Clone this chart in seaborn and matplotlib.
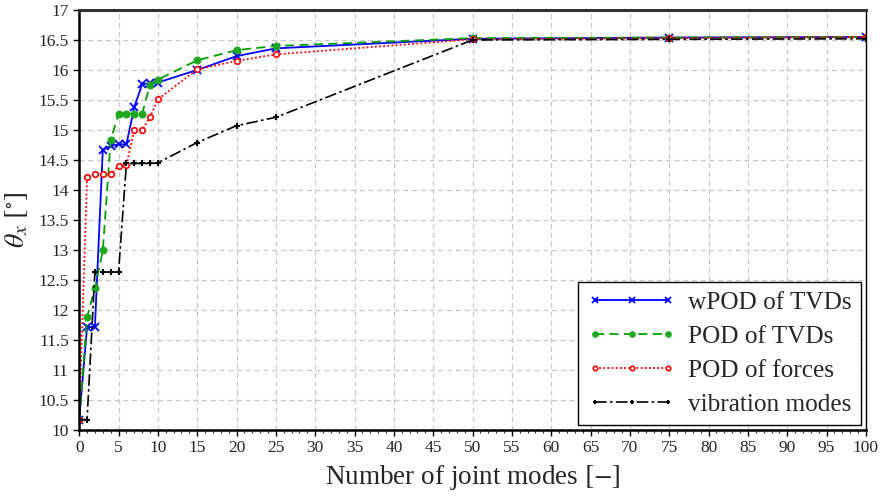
import numpy as np
import pandas as pd
import seaborn as sns
import matplotlib
matplotlib.use("Agg")
import matplotlib.pyplot as plt
from matplotlib.ticker import MultipleLocator, FormatStrFormatter

# Number of joint modes retained
n_modes = [0, 1, 2, 3, 4, 5, 6, 7, 8, 9, 10, 15, 20, 25, 50, 75, 100]

# Roll angle theta_x [deg] for each reduction basis
wpod_tvds = [10.17, 11.71, 11.72, 14.67, 14.73, 14.76, 14.76, 15.38, 15.76, 15.78,
             15.79, 16.00, 16.23, 16.36, 16.52, 16.54, 16.55]
pod_tvds = [10.17, 11.88, 12.36, 12.99, 14.83, 15.27, 15.27, 15.27, 15.27, 15.75,
            15.84, 16.16, 16.33, 16.40, 16.53, 16.54, 16.55]
pod_forces = [10.17, 14.22, 14.26, 14.26, 14.26, 14.40, 14.41, 15.00, 15.00, 15.21,
              15.51, 16.01, 16.15, 16.26, 16.51, 16.53, 16.55]
vib_modes = [10.17, 10.17, 12.63, 12.63, 12.63, 12.63, 14.44, 14.44, 14.44, 14.44,
             14.45, 14.79, 15.07, 15.21, 16.50, 16.51, 16.52]

series_names = ["wPOD of TVDs", "POD of TVDs", "POD of forces", "vibration modes"]
series_values = [wpod_tvds, pod_tvds, pod_forces, vib_modes]

df = pd.concat(
    [pd.DataFrame({"modes": n_modes, "theta": v, "basis": name})
     for name, v in zip(series_names, series_values)],
    ignore_index=True,
)

sns.set_style("ticks")
plt.rcParams["font.family"] = ["Liberation Serif", "DejaVu Serif"]
plt.rcParams["mathtext.fontset"] = "stix"

styles = {
    "wPOD of TVDs": dict(color="#0000ff", linestyle="-", marker="x", ms=6, mew=1.3,
                         mfc="#0000ff", mec="#0000ff", lw=1.3),
    "POD of TVDs": dict(color="#00a000", linestyle=(0, (5, 3)), marker="o", ms=5,
                        mfc="#1fa81f", mec="#1fa81f", lw=1.3),
    "POD of forces": dict(color="#ff0000", linestyle=(0, (1, 1.3)), marker="o", ms=4,
                          mfc="white", mec="#ff0000", mew=1.2, lw=1.3),
    "vibration modes": dict(color="black", linestyle=(0, (7, 2, 1.5, 2)), marker="+", ms=4,
                            mew=1.5, mfc="black", mec="black", lw=1.2),
}

fig, ax = plt.subplots(figsize=(8.8, 4.98), dpi=100)
fig.subplots_adjust(left=0.090, right=0.984, top=0.980, bottom=0.137)

for name in series_names:
    sub = df[df["basis"] == name]
    sns.lineplot(data=sub, x="modes", y="theta", ax=ax, label=name,
                 estimator=None, sort=False, **styles[name])

ax.set_xlim(0, 100)
ax.set_ylim(10, 17)
ax.xaxis.set_major_locator(MultipleLocator(5))
ax.xaxis.set_minor_locator(MultipleLocator(1))
ax.yaxis.set_major_locator(MultipleLocator(0.5))
ax.yaxis.set_major_formatter(FormatStrFormatter("%g"))
ax.tick_params(axis="both", which="major", labelsize=12.5, direction="out",
               length=4, width=1, color="black")
ax.tick_params(axis="x", which="minor", direction="out", length=2.5, width=0.8)
ax.grid(True, which="major", linestyle=(0, (4, 3)), color="#c8c8c8", lw=0.9)

for side in ["left", "bottom"]:
    ax.spines[side].set_linewidth(1.8)
    ax.spines[side].set_color("black")
ax.spines["top"].set_linewidth(2.2)
ax.spines["top"].set_color("#333333")
ax.spines["right"].set_linewidth(1.0)
ax.spines["right"].set_color("black")

ax.set_xlabel(r"Number of joint modes $[-]$", fontsize=19.5, labelpad=5)
ax.set_ylabel(r"$\theta_x\ [^{\circ}]$", fontsize=20, labelpad=6)

leg = ax.legend(loc="lower right", fontsize=18.2, frameon=True, fancybox=False,
                edgecolor="black", framealpha=1, numpoints=3, handlelength=3.5,
                markerscale=0.8, borderaxespad=0.2, labelspacing=0.45,
                handletextpad=0.5, borderpad=0.35)
leg.get_frame().set_linewidth(1.0)

fig.savefig("out.png", dpi=100)
